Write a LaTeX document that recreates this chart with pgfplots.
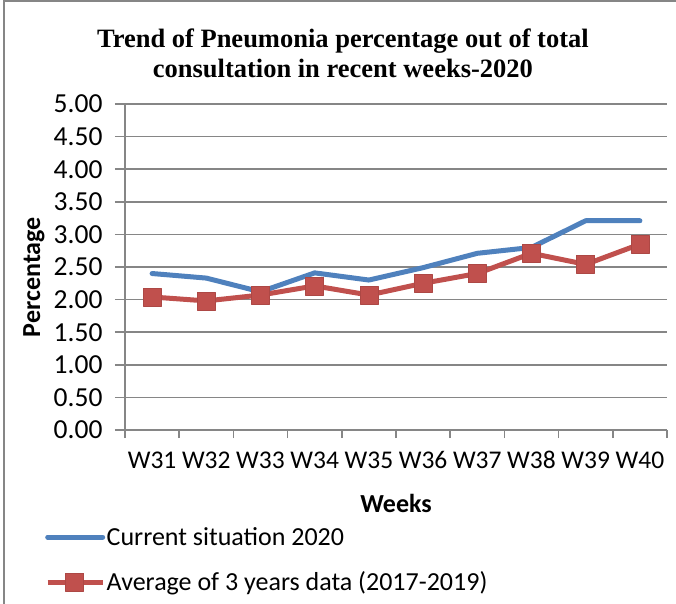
\documentclass[border=0pt]{standalone}
\usepackage{pgfplots}
\pgfplotsset{compat=1.18}
\usepackage{fontspec}
\setmainfont{Carlito}
\newfontfamily\titlefont{Liberation Serif}
\definecolor{cblue}{HTML}{4F81BD}
\definecolor{cred}{HTML}{C0504D}
\definecolor{cgrid}{HTML}{868686}
\begin{document}
\begin{tikzpicture}
\useasboundingbox (0,0) rectangle (676bp,604bp);
\draw[cgrid, line width=1.5bp] (4bp,0) -- (4bp,603bp) -- (676bp,603bp);
\begin{axis}[
  scale only axis, width=542bp, height=326bp,
  at={(125bp,174bp)}, anchor=south west,
  xmin=0.5, xmax=10.5, ymin=0, ymax=5,
  axis x line=bottom, axis y line=left,
  axis line style={-, cgrid, line width=1.5bp},
  xtick={1,...,10},
  xticklabels={W31,W32,W33,W34,W35,W36,W37,W38,W39,W40},
  minor xtick={0.5,1.5,...,10.5},
  major x tick style={draw=none},
  minor x tick style={cgrid, line width=1.5bp},
  ytick={0,0.5,...,5},
  y tick style={cgrid, line width=1.5bp},
  tick align=outside,
  major tick length=10bp, minor tick length=8bp,
  ymajorgrids, grid style={cgrid, line width=1.5bp},
  /pgf/number format/assume math mode=true,
  yticklabel style={/pgf/number format/.cd, fixed, fixed zerofill, precision=2,
    /tikz/.cd, font=\fontsize{27.5bp}{30bp}\selectfont, xshift=-9bp},
  xticklabel style={yshift=-8bp, font=\fontsize{25.5bp}{30bp}\selectfont},
  xlabel={Weeks}, ylabel={Percentage},
  label style={font=\fontsize{26bp}{30bp}\selectfont\bfseries},
  xlabel style={at={(axis description cs:0.5,-0.224)}, anchor=center},
  ylabel style={at={(axis description cs:-0.1680,0.469)}, anchor=center, rotate=0},
  title={Trend of Pneumonia percentage out of total\\consultation in recent weeks-2020},
  title style={at={(axis description cs:0.402,1.138)}, anchor=center, align=center,
    font=\titlefont\bfseries\fontsize{26.5bp}{30bp}\selectfont},
  legend style={at={(axis description cs:-0.1476,-0.298)}, anchor=north west,
    draw=none, fill=none, inner sep=0pt, row sep=25bp,
    font=\fontsize{26bp}{30bp}\selectfont,
    nodes={inner xsep=1.5bp, inner ysep=0bp}},
  legend cell align=left,
  legend image code/.code={\draw[mark repeat=2,mark phase=2,#1] plot coordinates {(0bp,0bp) (27bp,0bp) (55bp,0bp)};},
  clip=false,
]
\addplot[cblue, line width=5bp, line join=round, line cap=round] coordinates {
 (1,2.40) (2,2.33) (3,2.12) (4,2.41) (5,2.30) (6,2.49) (7,2.71) (8,2.80) (9,3.21) (10,3.21)};
\addlegendentry{Current situation 2020}
\addplot[cred, line width=5bp, line join=round, mark=square*, mark size=9bp,
  mark options={fill=cred, draw=cred!90!black, line width=0.8bp}] coordinates {
 (1,2.04) (2,1.98) (3,2.07) (4,2.21) (5,2.07) (6,2.25) (7,2.40) (8,2.71) (9,2.54) (10,2.85)};
\addlegendentry{Average of 3 years data (2017-2019)}
\end{axis}
\end{tikzpicture}
\end{document}
